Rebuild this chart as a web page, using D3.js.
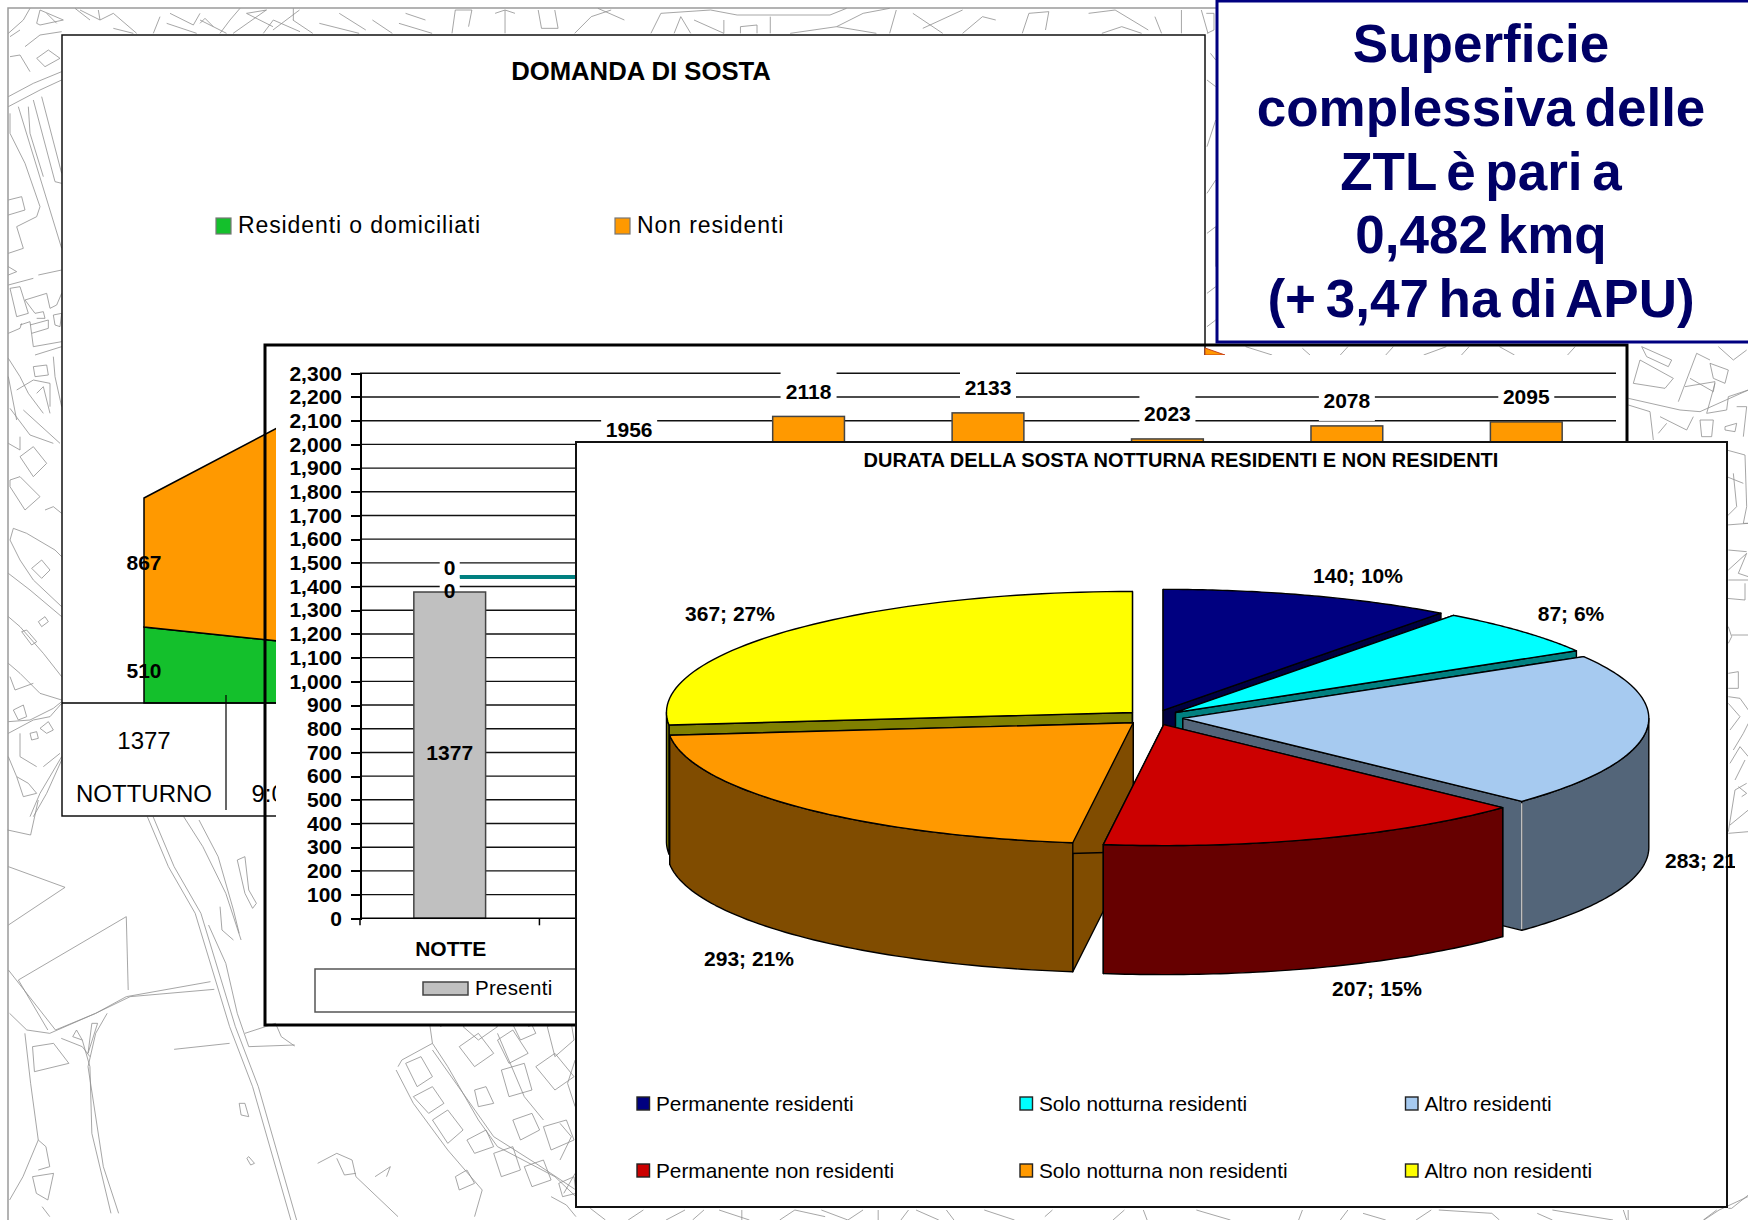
<!DOCTYPE html>
<html lang="en">
<head>
<meta charset="UTF-8">
<title>Domanda di sosta</title>
<script src="https://cdnjs.cloudflare.com/ajax/libs/d3/7.8.2/d3.min.js"></script>
<style>
    html, body { margin: 0; padding: 0; background: #fff; }
    svg { display: block; }
    text { font-family: "Liberation Sans", Arial, sans-serif; fill: #000; }
    .bold { font-weight: bold; }
    .map path { fill: none; stroke: #8f8f8f; stroke-width: 0.8; }
    .axis path, .axis line { stroke: #000; stroke-width: 2; shape-rendering: crispEdges; }
    .axis text { font-size: 21px; font-weight: bold; }
</style>
</head>
<body>
<div id="chart"></div>
<script>
// --- data
// back chart, stacked area (the rest of it sits behind the other panels)
const areaCategories = ['NOTTURNO', '9:00-11:00'];
const areaResidenti = [510, 396];
const areaNonResidenti = [867, 1560];
const areaTotals = [1377, 1956];
const areaSeriesNames = ['Residenti o domiciliati', 'Non residenti'];

// middle chart, bars
const barCategories = ['NOTTE', '9-11', '11-13', '13-15', '15-17', '17-19', '19-21'];
const barValues = [1377, 1956, 2118, 2133, 2023, 2078, 2095];
const lineValues = [1440, 1440];
const yTicks = d3.range(0, 2301, 100);

// front chart, exploded 3d pie
const pieNames = ['Permanente residenti', 'Solo notturna residenti', 'Altro residenti', 'Permanente non residenti', 'Solo notturna non residenti', 'Altro non residenti'];
const pieValues = [140, 87, 283, 207, 293, 367];
const piePercents = [10, 6, 21, 15, 21, 27];
const pieColors = ['#000080', '#00ffff', '#a6caf0', '#cc0000', '#ff9900', '#ffff00'];
const pieSides = ['#000040', '#008080', '#536579', '#660000', '#804c00', '#808000'];

const noteLines = ['Superficie', 'complessiva delle', 'ZTL è pari a', '0,482 kmq', '(+ 3,47 ha di APU)'];

// background map, traced by hand. each group is in its own crop space
const mapGroups = [
  // top left + left strip
  {ox: 0, oy: 0, sx: 3, sy: 3, lines: [
    [25,290,100,250,185,215], [25,320,120,270,185,240], [110,175,145,150,180,175,135,200,110,175], [30,170,60,165,90,215],
    [75,140,120,105,185,95], [25,100,70,60,90,25], [110,70,120,30,190,60,120,75,110,70], [55,320,185,745], [100,300,165,545,185,550],
    [125,290,185,520], [85,320,90,400,130,530], [30,340,30,400,75,490,120,620,110,650,50,680,70,745,25,760], [25,600,65,590,75,630,25,645],
    [25,800,50,815,25,825], [25,855,100,835], [115,825,185,810], [30,865,60,860,85,940,50,950,30,865], [75,900,140,880,150,925,170,915,185,880],
    [75,900,105,940,130,935,135,955,110,955], [60,975,90,965,100,1040,185,1025], [25,1000,60,985,65,970], [95,1000,145,985,145,960,90,975],
    [160,945,185,940,180,980,165,975,160,945], [105,1065,185,1040], [160,1070,165,1130,185,1220], [100,1100,140,1095,145,1125,105,1130,100,1100],
    [25,1075,60,1130,85,1180,130,1240], [50,1170,100,1140,150,1150,150,1220], [25,1130,50,1260], [110,1180,130,1160,150,1240],
    [225,25,270,60], [240,30,300,60,295,30], [300,60,340,40,410,100], [340,85,400,100], [480,50,460,100], [500,70,590,100], [510,40,580,75,600,40],
    [600,70,615,55,640,80], [660,100,690,60,720,25], [740,40,800,30], [790,100,820,60,900,95], [880,60,880,25], [30,110,60,90], [140,40,170,70]
  ]},
  {ox: 0, oy: 400, sx: 3, sy: 3, lines: [
    [30,25,90,105,160,130], [70,30,180,130], [25,130,60,150,60,110], [60,170,100,140,140,190,100,230,60,170], [30,240,60,230,120,290,75,330,30,260,30,240],
    [135,330,160,320,185,340], [30,420,40,385,80,400,165,450,185,470], [30,420,60,480,100,540,185,620], [95,505,125,480,150,510,125,535,95,505],
    [25,520,90,570,185,650], [25,650,60,680,130,760,185,830], [65,695,80,690,110,725,95,735,65,695], [115,665,135,650,145,665,125,680,115,665],
    [25,790,60,820,120,880,185,900], [30,830,45,870,100,850], [25,965,90,960,160,925,185,905], [25,1000,100,960,150,950,185,910],
    [40,930,70,915,80,950,55,960,40,930], [90,1000,110,995,115,1015,95,1020,90,1000], [120,985,145,965,160,990,140,1000,120,985],
    [50,1130,85,1150,110,1180,70,1190,50,1130], [90,1250,120,1180,185,1070], [100,1250,140,1180,185,1080], [25,1070,50,1130],
    [130,1100,180,1060], [60,1000,60,1070,110,1100]
  ]},
  // under the back panel + bottom left
  {ox: 0, oy: 800, sx: 2.613, sy: 3, lines: [
    [385,50,440,200,510,340,600,680,660,860,700,1020,760,1260], [400,50,455,200,525,340,615,680,675,860,715,1020,775,1260],
    [480,50,530,140,590,280,630,420], [520,60,570,170,610,330,625,400], [545,375,590,490,620,640,650,740,770,735],
    [620,180,640,170,650,270,670,310,660,325,640,280,620,180], [575,320,580,390,610,420], [455,748,600,730], [640,700,720,670,735,710,770,738],
    [25,640,70,690,130,700,250,640,330,590,550,545], [145,690,250,640,340,590,560,568], [280,640,250,700,230,800,270,1100,310,1240],
    [215,720,235,800,240,1000,290,1240], [65,700,80,850,100,1020,60,1130,25,1200], [22,200,170,262,22,375], [330,350,48,540,125,690],
    [330,350,335,570], [22,510,145,690], [20,90,80,105,100,0], [160,715,215,740,235,770], [85,740,140,730,180,790,90,815,85,740],
    [200,690,215,720,190,710,200,690], [240,670,230,760,255,670,240,670], [100,1020,120,1040,130,1100,100,1110],
    [85,1130,140,1120,125,1200,95,1180,85,1130], [110,1220,130,1250], [1040,800,1050,780,1130,730,1170,800,1250,960,1300,1040,1450,1130,1505,1190],
    [1035,810,1080,910,1170,1050,1260,1170,1240,1250], [1130,750,1210,880,1290,1010,1400,1090,1505,1170], [1060,790,1100,770,1130,830,1090,860,1060,790],
    [1080,890,1130,860,1160,910,1120,940,1080,890], [1130,960,1170,930,1210,990,1170,1030,1130,960], [1200,740,1250,700,1290,760,1240,800,1200,740],
    [1300,720,1340,690,1380,760,1330,790,1300,720], [1400,800,1450,760,1500,830,1450,870,1400,800], [1310,810,1370,790,1390,870,1330,890,1310,810],
    [1240,870,1270,860,1290,910,1250,920,1240,870], [1340,960,1390,940,1410,990,1360,1020,1340,960], [1420,980,1480,960,1500,1020,1440,1050,1420,980],
    [1220,1020,1270,990,1290,1040,1240,1060,1220,1020], [1290,1060,1340,1040,1360,1110,1310,1130,1290,1060], [1370,1100,1420,1080,1440,1140,1390,1160,1370,1100],
    [1190,1130,1220,1110,1240,1150,1200,1170,1190,1130], [1210,680,1260,650,1300,680,1250,720,1210,680], [1330,650,1380,650,1400,700,1360,720,1330,650],
    [1430,680,1490,650,1500,720,1450,770,1430,680], [1460,1150,1500,1130,1505,1180,1470,1190,1460,1150], [1120,650,1130,730],
    [830,1090,880,1060,920,1080,930,1130,1040,1250], [880,1075,900,1125,930,1120], [980,1130,1020,1100,1010,1130], [640,910,650,950,630,945,625,910,640,910],
    [650,1070,665,1090,655,1095,645,1075,650,1070], [1300,700,1370,890,1420,960], [1440,1190,1480,1215,1505,1250], [1150,680,1220,640], [1380,680,1440,650]
  ]},
  // top strip
  {ox: 200, oy: 0, sx: 1.508, sy: 3, lines: [
    [0,60,40,100], [50,100,100,30], [110,90,150,30], [180,70,240,100], [210,40,250,90], [300,70,350,100], [310,40,340,60], [380,100,385,30,410,30,405,80],
    [460,30,460,100], [445,40,460,30,475,40], [510,30,515,85,540,85,535,30], [565,100,590,50,620,30], [600,25,640,60], [680,100,695,40,770,30,810,45,950,45,975,25],
    [715,100,725,50,740,100], [745,60,790,100,790,60], [815,100,815,80,840,75,840,100], [860,100,860,50], [890,100,960,80,1020,100], [960,80,1000,40,1040,25],
    [1040,100,1050,30], [1075,40,1120,100], [1090,85,1150,30], [1150,100,1180,50,1200,60], [1240,100,1250,40,1280,35,1275,90], [1340,40,1380,30,1430,90],
    [1360,100,1390,80,1420,100], [1440,50,1450,100], [1480,30,1480,100], [1510,30,1520,100], [70,40,110,80], [140,60,170,100], [260,60,290,100]
  ]},
  // gap above the middle panel, gap beside the note box
  {ox: 560, oy: 340, sx: 1.32, sy: 3, lines: [
    [905,20,940,45], [980,25,990,45], [1040,20,1030,45], [1090,45,1100,20], [1140,45,1170,20], [1190,45,1200,20], [1240,20,1260,45], [1330,45,1340,20]
  ]},
  {ox: 1200, oy: 0, sx: 2.86, sy: 3, lines: [
    [18,40,40,40,40,90,20,100], [30,160,45,180], [20,240,45,260], [20,440,45,360], [20,580,45,540], [20,700,45,680,45,800], [20,880,45,860], [20,980,45,960]
  ]},
  // right strip
  {ox: 1600, oy: 340, sx: 3, sy: 3, lines: [
    [85,175,240,210,300,215,445,150], [85,195,150,215,160,300], [100,130,120,60,220,115,195,145,100,130], [125,20,215,60,205,80,140,50,125,20], [235,185,290,40,330,60],
    [255,140,345,125,340,155,270,115], [330,70,385,90,375,130,340,115,330,70], [345,130,320,220,380,210,385,170,445,150], [180,230,260,270,280,230], [175,280,200,250],
    [300,240,340,240,335,290,305,290,300,240], [375,260,410,250,405,275,375,270,375,260], [410,200,440,200,430,290], [355,20,400,60,440,30], [380,330,435,345,440,500,430,550,445,550],
    [380,410,430,430], [380,530,410,500,400,400], [380,555,445,550], [385,690,440,640,415,700,445,710], [385,630,440,635], [385,720,445,720], [380,775,435,780,435,730],
    [385,860,395,890,385,910], [395,885,445,885], [385,1000,415,995,415,1045,385,1045], [385,1070,420,1075,445,1110], [385,1090,420,1130,390,1170], [400,1230,430,1180,445,1150],
    [390,1270,420,1220,445,1250], [405,1320,435,1260]
  ]},
  {ox: 1600, oy: 780, sx: 3, sy: 3, lines: [
    [385,155,405,30,440,10], [385,160,445,155], [390,135,445,90], [385,1285,395,1285,445,1245], [415,20,440,40,425,50], [70,1290,80,1320], [310,1320,350,1290]
  ]},
  // bottom strip
  {ox: 560, oy: 1050, sx: 1.32, sy: 3, lines: [
    [40,475,60,510], [90,510,110,480], [140,510,165,480], [175,510,190,480], [210,480,250,510], [240,480,240,510], [290,510,310,480], [310,480,350,500], [345,480,380,510],
    [380,510,400,480], [420,480,420,510], [450,510,460,480], [470,480,500,510], [510,480,520,510], [560,480,600,510], [640,500,650,480], [730,510,745,480], [770,480,775,510],
    [840,480,885,510], [975,510,980,480], [1030,510,1040,480], [1060,490,1090,510], [1130,510,1150,480], [1160,480,1230,490,1240,510], [1290,490,1310,510], [1310,480,1390,510],
    [1410,480,1410,510], [1510,510,1530,480,1568,440], [20,30,10,100,20,170], [0,220,15,260,0,330], [20,370,5,430]
  ]}
];

const width = 1748;
const height = 1220;

const svg = d3.select('#chart').append('svg').attr('width', width).attr('height', height);

const drawMap = () => {
    svg.append('rect').attr('x', 8).attr('y', 8).attr('width', width).attr('height', height)
        .attr('fill', 'none').attr('stroke', '#9a9a9a').attr('stroke-width', 1.5);
    let line = d3.line();
    let map = svg.append('g').attr('class', 'map');
    mapGroups.forEach((g) => {
        g.lines.forEach((l) => {
            let pts = d3.range(0, l.length, 2).map((i) => [g.ox + l[i] / g.sx, g.oy + l[i + 1] / g.sy]);
            map.append('path').attr('d', line(pts));
        });
    });
};

const drawBackChart = () => {
    let g = svg.append('g');
    g.append('rect').attr('x', 62).attr('y', 35).attr('width', 1143).attr('height', 781)
        .attr('fill', '#fff').attr('stroke', '#111').attr('stroke-width', 1.5);

    g.append('text').attr('class', 'bold').attr('x', 641).attr('y', 80).attr('text-anchor', 'middle')
        .style('font-size', '25.7px').text('DOMANDA DI SOSTA');

    // legend
    [{x: 216, c: '#14c02c'}, {x: 615, c: '#ff9900'}].forEach((d, i) => {
        g.append('rect').attr('x', d.x).attr('y', 218).attr('width', 15).attr('height', 16)
            .attr('fill', d.c).attr('stroke', '#777').attr('stroke-width', 1.2);
        g.append('text').attr('x', d.x + 22).attr('y', 233).style('font-size', '23px').style('letter-spacing', '0.9px')
            .text(areaSeriesNames[i]);
    });

    // stacked areas
    let x = d3.scalePoint().domain(areaCategories).range([144, 308]);
    let y = d3.scaleLinear().domain([0, 1377]).range([703, 498]);
    let rows = areaCategories.map((c, i) => ({cat: c, res: areaResidenti[i], non: areaNonResidenti[i]}));
    let stacked = d3.stack().keys(['res', 'non'])(rows);
    let area = d3.area().x((d) => x(d.data.cat)).y0((d) => y(d[0])).y1((d) => y(d[1]));
    g.selectAll('path.layer').data(stacked).enter().append('path').attr('class', 'layer')
        .attr('d', area)
        .attr('fill', (d, i) => ['#14c02c', '#ff9900'][i])
        .attr('stroke', '#000').attr('stroke-width', 1.5);

    // labels on the first category only, the rest are hidden anyway
    g.append('text').attr('class', 'bold').attr('x', x(areaCategories[0])).attr('y', y(areaResidenti[0] / 2) + 6).attr('dy', '0.32em')
        .attr('text-anchor', 'middle').style('font-size', '21px').text(areaResidenti[0]);
    g.append('text').attr('class', 'bold').attr('x', x(areaCategories[0])).attr('y', y(areaResidenti[0] + areaNonResidenti[0] / 2) + 1).attr('dy', '0.32em')
        .attr('text-anchor', 'middle').style('font-size', '21px').text(areaNonResidenti[0]);

    // table under the chart
    g.append('line').attr('x1', 62).attr('x2', 300).attr('y1', 703).attr('y2', 703).attr('stroke', '#000').attr('stroke-width', 1.5);
    g.append('line').attr('x1', 226).attr('x2', 226).attr('y1', 695).attr('y2', 810).attr('stroke', '#000').attr('stroke-width', 1.2);
    areaCategories.forEach((c, i) => {
        g.append('text').attr('x', x(c)).attr('y', 749).attr('text-anchor', 'middle').style('font-size', '24px').text(areaTotals[i]);
        g.append('text').attr('x', x(c)).attr('y', 802).attr('text-anchor', 'middle').style('font-size', '24px').text(c);
    });

    // bit of the area that pokes out above the middle panel
    g.append('path').attr('d', 'M1205,348L1225,355L1205,355Z').attr('fill', '#ff9900').attr('stroke', '#c8401a').attr('stroke-width', 1);
};

const drawMiddleChart = () => {
    let g = svg.append('g');
    g.append('rect').attr('x', 276).attr('y', 355).attr('width', 1351).attr('height', 669).attr('fill', '#fff');
    g.append('rect').attr('x', 265).attr('y', 345).attr('width', 1362).attr('height', 680)
        .attr('fill', 'none').attr('stroke', '#000').attr('stroke-width', 3);

    let y = d3.scaleLinear().domain([0, 2300]).range([918.3, 373.3]);
    let x = d3.scaleBand().domain(barCategories).range([360, 1616]).paddingInner(0.6).paddingOuter(0.3);

    g.selectAll('line.grid').data(yTicks.slice(1)).enter().append('line').attr('class', 'grid')
        .attr('x1', 360).attr('x2', 1616).attr('y1', (d) => y(d)).attr('y2', (d) => y(d))
        .attr('stroke', '#111').attr('stroke-width', 1.4);

    let lineGen = d3.line().x((d, i) => x(barCategories[i]) + x.bandwidth() / 2).y((d) => y(d));
    g.append('path').attr('d', lineGen(lineValues)).attr('fill', 'none').attr('stroke', '#008080').attr('stroke-width', 4);

    // white boxes behind labels break the gridlines
    let cx = (c) => x(c) + x.bandwidth() / 2;
    g.selectAll('rect.box').data(barValues.slice(1)).enter().append('rect').attr('class', 'box')
        .attr('x', (d, i) => cx(barCategories[i + 1]) - 28).attr('width', 56)
        .attr('y', (d) => y(d) - 45).attr('height', 40).attr('fill', '#fff');
    [567, 590].forEach((ly) => {
        g.append('rect').attr('x', cx('NOTTE') - 10).attr('width', 20).attr('y', ly - 12).attr('height', 24).attr('fill', '#fff');
    });

    g.selectAll('rect.bar').data(barValues).enter().append('rect').attr('class', 'bar')
        .attr('x', (d, i) => x(barCategories[i])).attr('width', x.bandwidth())
        .attr('y', (d) => y(d)).attr('height', (d) => y(0) - y(d))
        .attr('fill', (d, i) => i === 0 ? '#c0c0c0' : '#ff9900')
        .attr('stroke', '#444').attr('stroke-width', 1.5);

    // axes
    let yAxis = d3.axisLeft(y).tickValues(yTicks).tickSize(9).tickPadding(9);
    g.append('g').attr('class', 'axis').attr('transform', 'translate(360,0)').call(yAxis);
    let step = x.step();
    g.selectAll('line.xtick').data(d3.range(0, 8)).enter().append('line').attr('class', 'xtick')
        .attr('x1', (d) => 360 + d * step).attr('x2', (d) => 360 + d * step)
        .attr('y1', y(0)).attr('y2', y(0) + 7).attr('stroke', '#000').attr('stroke-width', 1.5);
    g.append('line').attr('x1', 360).attr('x2', 1616).attr('y1', y(0)).attr('y2', y(0)).attr('stroke', '#000').attr('stroke-width', 1.5);
    g.append('text').attr('class', 'bold').attr('x', cx('NOTTE') + 1).attr('y', 956).attr('text-anchor', 'middle')
        .style('font-size', '21px').text(barCategories[0]);

    // value labels
    g.selectAll('text.val').data(barValues.slice(1)).enter().append('text').attr('class', 'val bold')
        .attr('x', (d, i) => cx(barCategories[i + 1])).attr('y', (d) => y(d) - 25).attr('dy', '0.36em')
        .attr('text-anchor', 'middle').style('font-size', '21px').text((d) => d);
    g.append('text').attr('class', 'bold').attr('x', cx('NOTTE')).attr('y', 752).attr('dy', '0.36em')
        .attr('text-anchor', 'middle').style('font-size', '21px').text(barValues[0]);
    [567, 590].forEach((ly) => {
        g.append('text').attr('class', 'bold').attr('x', cx('NOTTE')).attr('y', ly).attr('dy', '0.36em')
            .attr('text-anchor', 'middle').style('font-size', '21px').text('0');
    });

    // legend
    g.append('rect').attr('x', 315).attr('y', 969).attr('width', 420).attr('height', 43)
        .attr('fill', '#fff').attr('stroke', '#555').attr('stroke-width', 1.5);
    g.append('rect').attr('x', 423).attr('y', 982).attr('width', 45).attr('height', 13)
        .attr('fill', '#c0c0c0').attr('stroke', '#444').attr('stroke-width', 1.5);
    g.append('text').attr('x', 475).attr('y', 995).style('font-size', '20.5px').style('letter-spacing', '0.3px').text('Presenti');
};

const drawPieChart = () => {
    let g = svg.append('g');
    g.append('rect').attr('x', 576).attr('y', 442).attr('width', 1151).attr('height', 765)
        .attr('fill', '#fff').attr('stroke', '#111').attr('stroke-width', 2);

    g.append('text').attr('class', 'bold').attr('x', 1181).attr('y', 467).attr('text-anchor', 'middle')
        .style('font-size', '20px').text('DURATA DELLA SOSTA NOTTURNA RESIDENTI E NON RESIDENTI');

    const rx = 466, ry = 121, depth = 129, explode = 29, cx = 1154, cy = 717.5;
    const tilt = ry / rx;
    let line = d3.line();

    let arcs = d3.pie().sort(null)(pieValues);
    arcs.forEach((a) => {
        let mid = (a.startAngle + a.endAngle) / 2;
        a.ax = cx + explode * Math.sin(mid);
        a.ay = cy - explode * tilt * Math.cos(mid);
    });
    let at = (a, ang) => [a.ax + rx * Math.sin(ang), a.ay - ry * Math.cos(ang)];
    let arcPts = (a, from, to) => d3.range(0, 61).map((k) => at(a, from + (to - from) * k / 60));

    // painter order, back to front
    [0, 1, 2, 5, 4, 3].forEach((i) => {
        let a = arcs[i];
        let slice = g.append('g').attr('stroke', '#000').attr('stroke-width', 1.4).attr('stroke-linejoin', 'round');

        // the two cut faces
        [a.startAngle, a.endAngle].forEach((ang) => {
            let p = at(a, ang);
            slice.append('path').attr('fill', pieSides[i])
                .attr('d', line([[a.ax, a.ay], p, [p[0], p[1] + depth], [a.ax, a.ay + depth]]) + 'Z');
        });

        // outer rim, only the front half shows
        let from = Math.max(a.startAngle, Math.PI / 2);
        let to = Math.min(a.endAngle, Math.PI * 1.5);
        if (from < to) {
            let top = arcPts(a, from, to);
            let bottom = top.map((p) => [p[0], p[1] + depth]).reverse();
            slice.append('path').attr('fill', pieSides[i]).attr('d', line(top.concat(bottom)) + 'Z');
        }

        // top face
        slice.append('path').attr('fill', pieColors[i])
            .attr('d', line([[a.ax, a.ay]].concat(arcPts(a, a.startAngle, a.endAngle))) + 'Z');

        // thin light seam on the blue slice where the cut meets the rim
        if (i === 2) {
            let p = at(a, a.endAngle);
            slice.append('line').attr('x1', p[0]).attr('x2', p[0]).attr('y1', p[1] + 2).attr('y2', p[1] + depth - 1)
                .attr('stroke', '#e8e8e8').attr('stroke-width', 1.2);
        }
    });

    // labels
    let labelPos = [
        {x: 1358, y: 575, a: 'middle'}, {x: 1571, y: 613, a: 'middle'}, {x: 1665, y: 860, a: 'start'},
        {x: 1377, y: 988, a: 'middle'}, {x: 749, y: 958, a: 'middle'}, {x: 730, y: 613, a: 'middle'}
    ];
    let defs = svg.append('defs');
    defs.append('clipPath').attr('id', 'labelclip').append('rect').attr('x', 576).attr('y', 442).attr('width', 1159).attr('height', 765);
    pieValues.forEach((v, i) => {
        g.append('text').attr('class', 'bold').attr('clip-path', 'url(#labelclip)')
            .attr('x', labelPos[i].x).attr('y', labelPos[i].y).attr('dy', '0.36em')
            .attr('text-anchor', labelPos[i].a).style('font-size', '21px')
            .text(v + '; ' + piePercents[i] + '%');
    });

    // legend, 3 columns by 2 rows
    let colX = d3.scaleOrdinal().domain([0, 1, 2]).range([637, 1020, 1405.5]);
    let rowY = d3.scaleOrdinal().domain([0, 1]).range([1097, 1164]);
    pieNames.forEach((n, i) => {
        let col = i % 3, row = Math.floor(i / 3);
        g.append('rect').attr('x', colX(col)).attr('y', rowY(row)).attr('width', 12.5).attr('height', 13)
            .attr('fill', pieColors[i]).attr('stroke', '#222').attr('stroke-width', 1.4);
        g.append('text').attr('x', colX(col) + 19).attr('y', rowY(row) + 14).style('font-size', '20.8px').text(n);
    });
};

const drawNote = () => {
    let g = svg.append('g');
    g.append('rect').attr('x', 1217).attr('y', 1).attr('width', 540).attr('height', 341)
        .attr('fill', '#fff').attr('stroke', '#000080').attr('stroke-width', 3);
    g.selectAll('text.note').data(noteLines).enter().append('text').attr('class', 'note bold')
        .attr('x', 1481).attr('y', (d, i) => 62 + i * 63.8).attr('text-anchor', 'middle')
        .style('font-size', '53px').style('fill', '#000066').style('word-spacing', '-5px')
        .text((d) => d);
};

drawMap();
drawBackChart();
drawMiddleChart();
drawPieChart();
drawNote();
</script>
</body>
</html>
